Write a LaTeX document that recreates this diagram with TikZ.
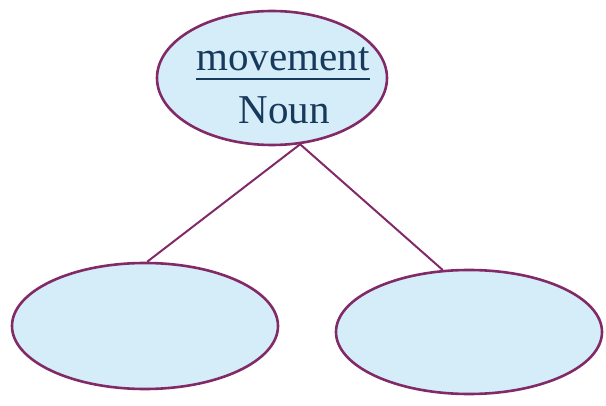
\documentclass[tikz,border=0pt]{standalone}
\usepackage{fontspec}
\setmainfont{Liberation Serif}
\usetikzlibrary{shapes.geometric,calc}
\definecolor{rim}{HTML}{822A68}
\definecolor{fillblue}{HTML}{D5EDF8}
\definecolor{ink}{HTML}{173A5C}
\tikzset{
  bubble/.style={ellipse, draw=rim, line width=2.6pt, fill=fillblue, inner sep=0pt},
  link/.style={draw=rim, line width=2pt},
  word/.style={text=ink, font=\fontsize{41}{44}\selectfont, inner sep=0pt}
}
\begin{document}
\begin{tikzpicture}[x=1pt,y=-1pt]
\useasboundingbox (0,0) rectangle (606,406);
\node[bubble, minimum width=230pt, minimum height=134pt] (top) at (272,78) {};
\node[bubble, minimum width=266pt, minimum height=126pt] (left) at (145,326) {};
\node[bubble, minimum width=266pt, minimum height=124pt] (right) at (469,332) {};
\draw[link] (top.-67) -- (left.88);
\draw[link] (top.-67) -- (right.113);
\node[word, anchor=base] (w1) at (283,71) {movement};
\draw[ink, line width=2pt] ($(w1.south west)+(0,7)$) -- ($(w1.south east)+(0,7)$);
\node[word, anchor=base] (w2) at (284,124) {Noun};
\end{tikzpicture}
\end{document}
